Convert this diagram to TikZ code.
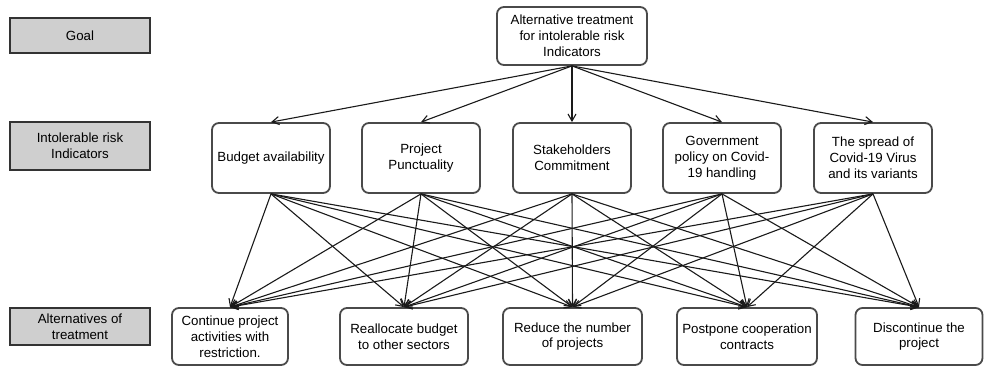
\documentclass[tikz,border=0pt]{standalone}
\usepackage{fontspec}
\setmainfont{Liberation Sans}
\usetikzlibrary{arrows.meta}
\definecolor{boxedge}{HTML}{4A4A4A}
\definecolor{legendedge}{HTML}{333333}
\definecolor{legendfill}{HTML}{CFCFCF}
\definecolor{linkcol}{HTML}{1A1A1A}
\begin{document}
\begin{tikzpicture}[x=1pt,y=-1pt,
  boxtxt/.style={font=\fontsize{13.3}{15.8}\selectfont},
  hbox/.style={boxtxt, draw=boxedge, line width=1.8pt, rounded corners=7pt,
    align=center, inner sep=1pt, minimum height=#1},
  legendbox/.style={boxtxt, draw=legendedge, fill=legendfill, line width=2pt,
    align=center, inner sep=1pt, minimum width=140pt, minimum height=#1},
  link/.style={draw=linkcol, line width=1.1pt, -{Straight Barb[length=7pt,width=8pt]}}]
\useasboundingbox (0,0) rectangle (984,367);

% level labels
\node[legendbox=35pt] (lgoal) at (80,35.5) {Goal};
\node[legendbox=48pt] (lrisk) at (80,146) {Intolerable risk\\Indicators};
\node[legendbox=37pt] (lalt) at (80,326.5) {Alternatives of\\treatment};

% goal
\node[hbox=58pt, minimum width=150pt] (goal) at (572,36)
  {Alternative treatment\\for intolerable risk\\Indicators};

% risk indicators
\node[hbox=70pt, minimum width=118pt] (r1) at (271,158) {Budget availability};
\node[hbox=70pt, minimum width=118pt] (r2) at (421,158) {Project\\Punctuality};
\node[hbox=70pt, minimum width=118pt] (r3) at (572,158) {Stakeholders\\Commitment};
\node[hbox=70pt, minimum width=118pt] (r4) at (722,158) {Government\\policy on Covid-\\19 handling};
\node[hbox=70pt, minimum width=118pt] (r5) at (873,158) {The spread of\\Covid-19 Virus\\and its variants};

% treatment alternatives
\node[hbox=57pt, minimum width=116pt] (a1) at (230,336.5) {Continue project\\activities with\\restriction.};
\node[hbox=57pt, minimum width=128pt] (a2) at (404,336.5) {Reallocate budget\\to other sectors};
\node[hbox=57pt, minimum width=139pt] (a3) at (572.5,336.5) {Reduce the number\\of projects};
\node[hbox=57pt, minimum width=140pt] (a4) at (747,336.5) {Postpone cooperation\\contracts};
\node[hbox=57pt, minimum width=127pt] (a5) at (919,336.5) {Discontinue the\\project};

% goal to indicators
\foreach \r in {r1,r2,r3,r4,r5}
  \draw[link] (goal.south) -- (\r.north);

% indicators to alternatives
\foreach \r in {r1,r2,r3,r4,r5}
  \foreach \a in {a1,a2,a3,a4,a5}
    \draw[link] (\r.south) -- (\a.north);
\end{tikzpicture}
\end{document}
